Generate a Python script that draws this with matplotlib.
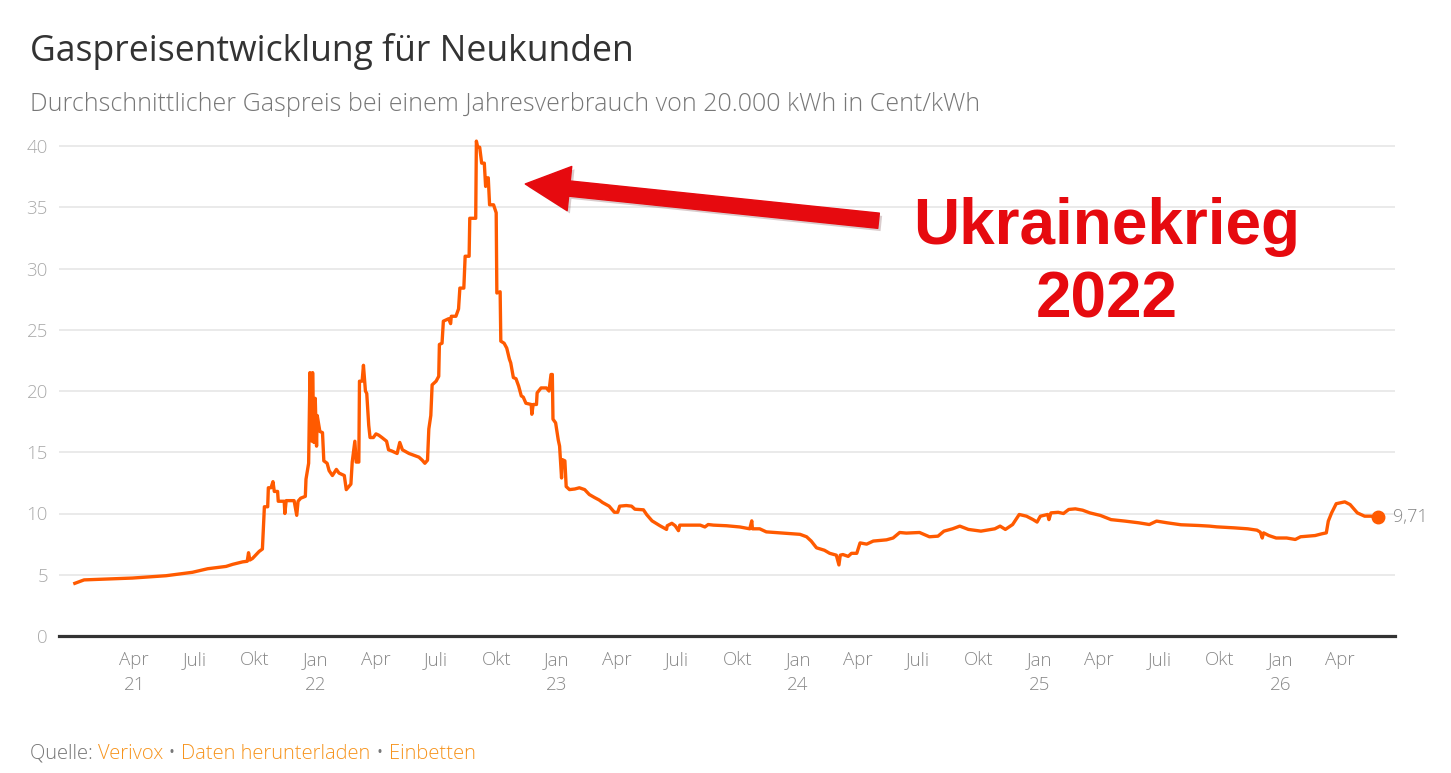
import matplotlib.pyplot as plt
import matplotlib.patheffects as pe
import pandas as pd

# Durchschnittlicher Gaspreis (Cent/kWh)
dates_2021 = [
    "2021-01-01", "2021-01-15", "2021-03-29", "2021-05-19", "2021-06-28", "2021-07-21", "2021-08-18", "2021-08-28", "2021-09-12", "2021-09-19",
    "2021-09-21", "2021-09-23", "2021-09-27", "2021-10-07", "2021-10-12", "2021-10-15", "2021-10-20", "2021-10-21", "2021-10-25", "2021-10-28",
    "2021-10-30", "2021-11-04", "2021-11-05", "2021-11-14", "2021-11-15", "2021-11-17", "2021-11-29", "2021-12-03", "2021-12-05", "2021-12-09",
    "2021-12-16", "2021-12-17", "2021-12-21", "2021-12-23", "2021-12-26", "2021-12-27", "2021-12-29", "2021-12-31",
]
prices_2021 = [
    4.30, 4.58, 4.73, 4.92, 5.20, 5.49, 5.68, 5.85, 6.05, 6.10,
    6.80, 6.20, 6.33, 6.90, 7.10, 10.55, 10.55, 12.10, 12.10, 12.60,
    11.80, 11.80, 11.00, 11.00, 10.00, 11.05, 11.05, 9.85, 11.00, 11.25,
    11.40, 12.80, 14.10, 21.50, 15.90, 21.50, 15.80, 19.40,
]

dates_2022 = [
    "2022-01-02", "2022-01-03", "2022-01-07", "2022-01-11", "2022-01-13", "2022-01-18", "2022-01-21", "2022-01-26", "2022-02-01", "2022-02-05",
    "2022-02-13", "2022-02-16", "2022-02-23", "2022-02-25", "2022-03-01", "2022-03-03", "2022-03-07", "2022-03-08", "2022-03-12", "2022-03-14",
    "2022-03-17", "2022-03-19", "2022-03-22", "2022-03-24", "2022-03-29", "2022-04-02", "2022-04-06", "2022-04-11", "2022-04-18", "2022-04-21",
    "2022-04-26", "2022-05-04", "2022-05-08", "2022-05-12", "2022-05-22", "2022-06-06", "2022-06-11", "2022-06-15", "2022-06-19", "2022-06-21",
    "2022-06-24", "2022-06-26", "2022-07-02", "2022-07-06", "2022-07-07", "2022-07-11", "2022-07-13", "2022-07-21", "2022-07-24", "2022-07-25",
    "2022-08-01", "2022-08-05", "2022-08-07", "2022-08-13", "2022-08-15", "2022-08-21", "2022-08-22", "2022-08-31", "2022-09-01", "2022-09-03",
    "2022-09-06", "2022-09-09", "2022-09-13", "2022-09-15", "2022-09-17", "2022-09-19", "2022-09-21", "2022-09-27", "2022-10-01", "2022-10-02",
    "2022-10-07", "2022-10-08", "2022-10-13", "2022-10-17", "2022-10-21", "2022-10-23", "2022-10-27", "2022-10-31", "2022-11-04", "2022-11-08",
    "2022-11-11", "2022-11-15", "2022-11-23", "2022-11-24", "2022-11-26", "2022-12-01", "2022-12-02", "2022-12-08", "2022-12-16", "2022-12-20",
    "2022-12-23", "2022-12-25", "2022-12-26", "2022-12-30",
]
prices_2022 = [
    15.50, 18.00, 16.70, 16.60, 14.30, 14.10, 13.50, 13.10, 13.60, 13.30,
    13.10, 11.95, 12.40, 14.20, 15.90, 14.20, 14.20, 20.80, 20.80, 22.10,
    20.00, 19.80, 17.20, 16.20, 16.20, 16.50, 16.40, 16.20, 15.90, 15.20,
    15.10, 14.90, 15.80, 15.20, 14.90, 14.60, 14.35, 14.10, 14.35, 16.90,
    18.00, 20.50, 20.80, 21.20, 23.80, 23.90, 25.70, 25.90, 25.50, 26.10,
    26.10, 26.70, 28.40, 28.40, 31.00, 31.00, 34.10, 34.10, 40.40, 39.90,
    39.90, 38.60, 38.60, 36.70, 37.40, 37.40, 35.20, 35.20, 34.55, 28.00,
    28.10, 24.07, 23.90, 23.50, 22.60, 22.30, 21.10, 21.00, 20.40, 19.60,
    19.50, 19.00, 18.90, 18.10, 18.90, 18.90, 19.85, 20.25, 20.25, 20.00,
    21.35, 21.35, 17.70, 17.40,
]

dates_2023 = [
    "2023-01-03", "2023-01-05", "2023-01-08", "2023-01-09", "2023-01-13", "2023-01-15", "2023-01-20", "2023-01-28", "2023-02-04", "2023-02-12",
    "2023-02-19", "2023-02-27", "2023-03-06", "2023-03-11", "2023-03-21", "2023-03-29", "2023-04-03", "2023-04-06", "2023-04-16", "2023-04-24",
    "2023-04-29", "2023-05-12", "2023-05-17", "2023-05-25", "2023-06-06", "2023-06-16", "2023-06-17", "2023-06-24", "2023-06-29", "2023-07-04",
    "2023-07-06", "2023-07-16", "2023-08-06", "2023-08-13", "2023-08-18", "2023-08-26", "2023-09-15", "2023-10-05", "2023-10-20", "2023-10-23",
    "2023-10-24", "2023-11-04", "2023-11-14", "2023-12-10",
]
prices_2023 = [
    16.00, 15.50, 12.90, 14.40, 14.30, 12.20, 11.95, 12.00, 12.10, 11.95,
    11.55, 11.30, 11.10, 10.90, 10.60, 10.10, 10.10, 10.60, 10.65, 10.60,
    10.35, 10.30, 9.90, 9.40, 9.00, 8.70, 9.00, 9.20, 9.00, 8.60,
    9.05, 9.05, 9.05, 8.90, 9.10, 9.05, 9.00, 8.90, 8.75, 9.40,
    8.75, 8.75, 8.50, 8.40,
]

dates_2024 = [
    "2024-01-04", "2024-01-14", "2024-01-21", "2024-01-29", "2024-02-10", "2024-02-18", "2024-02-28", "2024-03-03", "2024-03-05", "2024-03-09",
    "2024-03-17", "2024-03-22", "2024-03-30", "2024-04-04", "2024-04-14", "2024-04-24", "2024-05-14", "2024-05-24", "2024-06-03", "2024-06-13",
    "2024-07-03", "2024-07-18", "2024-07-31", "2024-08-09", "2024-08-22", "2024-09-02", "2024-09-15", "2024-10-04", "2024-10-25", "2024-11-02",
    "2024-11-10", "2024-11-21", "2024-12-01", "2024-12-12", "2024-12-22", "2024-12-28",
]
prices_2024 = [
    8.30, 8.10, 7.75, 7.20, 7.00, 6.75, 6.60, 5.80, 6.60, 6.65,
    6.50, 6.75, 6.75, 7.60, 7.50, 7.75, 7.85, 8.00, 8.45, 8.40,
    8.45, 8.10, 8.15, 8.56, 8.75, 8.97, 8.70, 8.56, 8.75, 8.97,
    8.70, 9.10, 9.92, 9.78, 9.50, 9.30,
]

dates_2025 = [
    "2025-01-02", "2025-01-13", "2025-01-15", "2025-01-18", "2025-01-29", "2025-02-06", "2025-02-14", "2025-02-24", "2025-03-07", "2025-03-18",
    "2025-04-03", "2025-04-19", "2025-05-10", "2025-05-31", "2025-06-16", "2025-06-27", "2025-07-13", "2025-08-03", "2025-08-30", "2025-09-15",
    "2025-09-26", "2025-10-22", "2025-11-12", "2025-11-26", "2025-12-01", "2025-12-04", "2025-12-06", "2025-12-14", "2025-12-25",
]
prices_2025 = [
    9.78, 9.92, 9.50, 10.05, 10.10, 10.00, 10.33, 10.38, 10.27, 10.05,
    9.84, 9.50, 9.38, 9.24, 9.10, 9.38, 9.24, 9.08, 9.02, 8.97,
    8.91, 8.83, 8.75, 8.64, 8.48, 8.00, 8.42, 8.20, 8.00,
]

dates_2026 = [
    "2026-01-10", "2026-01-23", "2026-01-31", "2026-02-22", "2026-03-04", "2026-03-11", "2026-03-14", "2026-03-19", "2026-03-26", "2026-04-08",
    "2026-04-16", "2026-04-27", "2026-05-08", "2026-05-18", "2026-05-28",
]
prices_2026 = [
    8.00, 7.88, 8.10, 8.20, 8.34, 8.42, 9.38, 10.05, 10.80, 10.95,
    10.73, 10.05, 9.78, 9.78, 9.71,
]

last_label = "9,71"
y_ticks = [0, 5, 10, 15, 20, 25, 30, 35, 40]
month_names = {1: "Jan", 4: "Apr", 7: "Juli", 10: "Okt"}

title = "Gaspreisentwicklung für Neukunden"
subtitle = "Durchschnittlicher Gaspreis bei einem Jahresverbrauch von 20.000 kWh in Cent/kWh"
note_lines = ["Ukrainekrieg", "2022"]
source_parts = [("Quelle: ", "gray"), ("Verivox", "orange"), (" • ", "gray"),
                ("Daten herunterladen", "orange"), (" • ", "gray"), ("Einbetten", "orange")]

dates = pd.to_datetime(dates_2021 + dates_2022 + dates_2023 + dates_2024 + dates_2025 + dates_2026)
prices = prices_2021 + prices_2022 + prices_2023 + prices_2024 + prices_2025 + prices_2026

tick_dates = pd.date_range("2021-04-01", "2026-04-01", freq="QS")
tick_labels = []
for i, d in enumerate(tick_dates):
    lab = month_names[d.month]
    if d.month == 1 or i == 0:
        lab += "\n" + d.strftime("%y")
    tick_labels.append(lab)

LINE = "#ff5a00"
GRID = "#e6e6e6"
RED = "#e60a0f"
colors = {"gray": "#777777", "orange": "#f7941d"}

plt.rcParams["font.family"] = ["Open Sans", "DejaVu Sans"]

fig = plt.figure(figsize=(14.51, 7.73), dpi=100)
ax = fig.add_axes([59 / 1451, 137 / 773, 1336 / 1451, 502.25 / 773])

ax.plot(dates, prices, color=LINE, lw=2.4, solid_joinstyle="round", zorder=3)
ax.plot(dates[-1], prices[-1], "o", color=LINE, ms=9, zorder=4)
ax.annotate(last_label, xy=(dates[-1], prices[-1]), xytext=(11, 0), textcoords="offset points",
            va="center", ha="left", color="#888888", fontsize=13, fontweight="light")

ax.set_xlim(pd.Timestamp("2020-12-08"), pd.Timestamp("2026-06-23"))
ax.set_ylim(0, 41)
ax.set_yticks(y_ticks)
ax.set_yticklabels([str(v) for v in y_ticks])
ax.set_xticks(tick_dates)
ax.set_xticklabels(tick_labels)
for lbl in ax.get_xticklabels():
    lbl.set_linespacing(1.45)
    lbl.set_fontweight("light")
for lbl in ax.get_yticklabels():
    lbl.set_fontweight("light")

for s in ax.spines.values():
    s.set_visible(False)
ax.grid(axis="y", color=GRID, lw=1.2)
ax.set_axisbelow(True)
ax.axhline(0, color="#333333", lw=2.3, clip_on=False, zorder=2)
ax.tick_params(length=0)
ax.tick_params(axis="y", pad=8, labelcolor="#aaaaaa", labelsize=13.5)
ax.tick_params(axis="x", pad=11, labelcolor="#888888", labelsize=13.5)

# Pfeil und Beschriftung
arr = ax.annotate("", xy=(pd.Timestamp("2022-11-14"), 36.9), xytext=(pd.Timestamp("2024-05-02"), 33.9),
                  arrowprops=dict(arrowstyle="simple,head_length=1.6,head_width=1.6,tail_width=0.55",
                                  mutation_scale=20, color=RED, shrinkA=0, shrinkB=0))
arr.arrow_patch.set_path_effects([pe.SimplePatchShadow(offset=(2, -2), alpha=0.2), pe.Normal()])

fig.text(1107 / 1451, 1 - 244 / 773, note_lines[0], ha="center", va="baseline", color=RED,
         fontsize=46, fontweight="bold", family="Liberation Sans")
fig.text(1107 / 1451, 1 - 317 / 773, note_lines[1], ha="center", va="baseline", color=RED,
         fontsize=46, fontweight="bold", family="Liberation Sans")

fig.text(30 / 1451, 1 - 61 / 773, title, ha="left", va="baseline", color="#333333", fontsize=25.6)
fig.text(30 / 1451, 1 - 111 / 773, subtitle, ha="left", va="baseline", color="#777777",
         fontsize=18, fontweight="light")

txt = None
for s, c in source_parts:
    if txt is None:
        txt = fig.text(30 / 1451, 1 - 764 / 773, s, ha="left", va="bottom", color=colors[c],
                       fontsize=14.5, fontweight="light")
    else:
        txt = ax.annotate(s, xy=(1, 0), xycoords=txt, ha="left", va="bottom", color=colors[c],
                          fontsize=14.5, fontweight="light", annotation_clip=False)

fig.savefig("out.png", dpi=100)
